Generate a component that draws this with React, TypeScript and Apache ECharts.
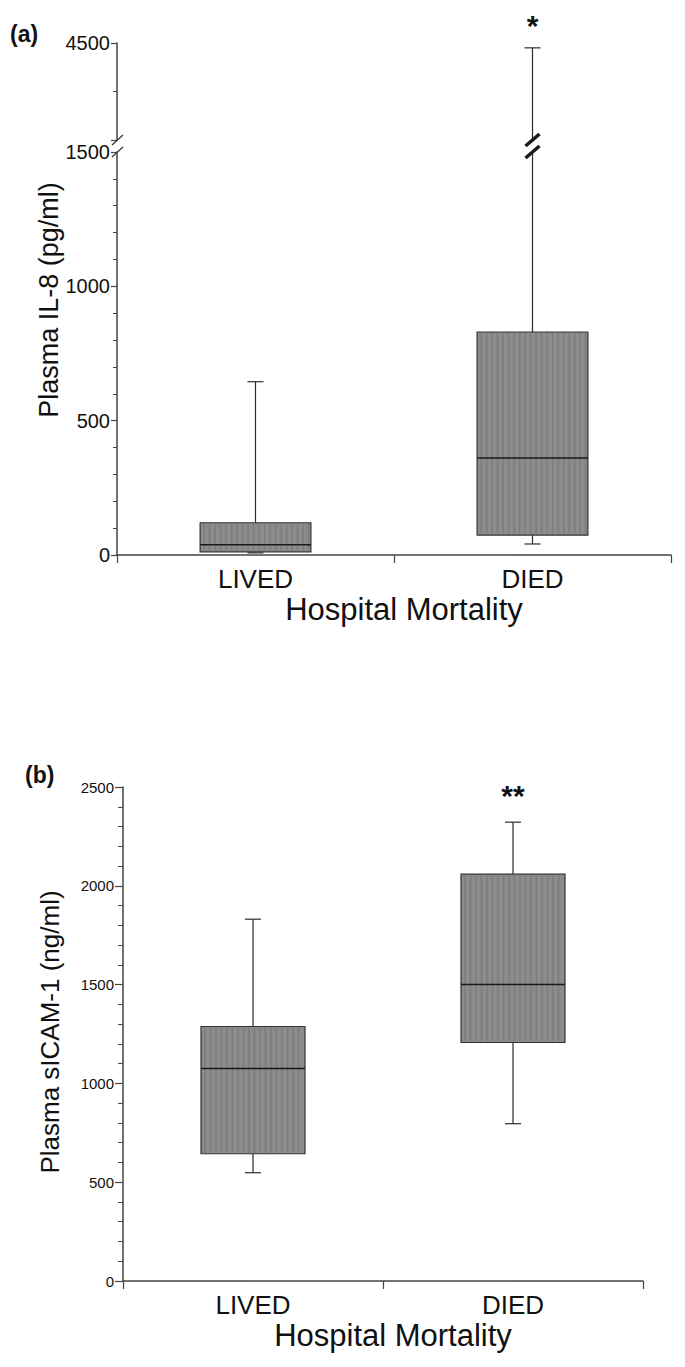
import React, { useEffect, useRef } from "react";
import * as echarts from "echarts";

// ---------- data ----------
const categories = ["LIVED", "DIED"];
// each box: [min, Q1, median, Q3, max]
const il8Boxes = [
  [8, 12, 38, 120, 645],
  [41, 74, 361, 830, 4350],
];
const icamBoxes = [
  [548, 644, 1075, 1288, 1831],
  [796, 1207, 1501, 2059, 2322],
];
const il8Marks = ["", "*"];
const icamMarks = ["", "**"];
const il8LowerRange = [0, 1500, 500];
const il8UpperRange = [1500, 4500, 3000];
const icamRange = [0, 2500, 500];

const FONT = '"Liberation Sans", Arial, Helvetica, sans-serif';
const AXIS = "#444";
const INK = "#111";

// layout
const A_LEFT = 117;
const A_WIDTH = 554;
const A_UP_TOP = 43;
const A_UP_H = 97;
const A_LO_TOP = 152;
const A_LO_H = 403;
const B_LEFT = 123;
const B_WIDTH = 520;
const B_TOP = 787;
const B_H = 494;

function boxSeries(xi: number, yi: number, boxes: number[][], marks: string[], markGap: number, markSize: number) {
  return {
    type: "custom",
    xAxisIndex: xi,
    yAxisIndex: yi,
    data: boxes.map((b, i) => [i, ...b]),
    encode: { x: 0, y: [1, 2, 3, 4, 5] },
    renderItem: (params: any, api: any) => {
      const cs = params.coordSys;
      const top = cs.y;
      const bottom = cs.y + cs.height;
      const cat = api.value(0);
      const v = [1, 2, 3, 4, 5].map((d) => api.value(d));
      const cx = api.coord([cat, v[2]])[0];
      const bw = api.size([1, 0])[0] * 0.4;
      const ys = v.map((val: number) => api.coord([cat, val])[1]);
      const inside = (y: number) => y >= top - 0.5 && y <= bottom + 0.5;
      const clamp = (y: number) => Math.min(bottom, Math.max(top, y));
      const children: any[] = [];
      const ls = { stroke: "#2b2b2b", lineWidth: 1.2 };
      const capW = 16;
      const seg = (ya: number, yb: number) => {
        const a = clamp(ya);
        const b = clamp(yb);
        if (Math.abs(a - b) > 0.5)
          children.push({ type: "line", shape: { x1: cx, y1: a, x2: cx, y2: b }, style: ls });
      };
      const cap = (y: number) => {
        if (inside(y))
          children.push({ type: "line", shape: { x1: cx - capW / 2, y1: y, x2: cx + capW / 2, y2: y }, style: ls });
      };
      seg(ys[0], ys[1]);
      cap(ys[0]);
      seg(ys[3], ys[4]);
      cap(ys[4]);
      const bt = clamp(ys[3]);
      const bb = clamp(ys[1]);
      if (bb - bt > 0.5) {
        const x0 = cx - bw / 2;
        children.push({
          type: "rect",
          shape: { x: x0, y: bt, width: bw, height: bb - bt },
          style: { fill: "#8c8c8c", stroke: "#333", lineWidth: 1.2 },
        });
        for (let sx = x0 + 4; sx < x0 + bw - 2; sx += 5.5) {
          children.push({
            type: "line",
            shape: { x1: sx, y1: bt + 1, x2: sx, y2: bb - 1 },
            style: { stroke: "rgba(0,0,0,0.12)", lineWidth: 1.4 },
          });
        }
      }
      if (inside(ys[2]))
        children.push({
          type: "line",
          shape: { x1: cx - bw / 2, y1: ys[2], x2: cx + bw / 2, y2: ys[2] },
          style: { stroke: "#1a1a1a", lineWidth: 1.5 },
        });
      const slash = (y: number) =>
        children.push({
          type: "line",
          shape: { x1: cx - 7, y1: y + 6, x2: cx + 7, y2: y - 6 },
          style: { stroke: "#1a1a1a", lineWidth: 3.5 },
        });
      if (ys[4] < top && ys[3] > top) slash(top);
      if (ys[4] < bottom && ys[3] > bottom) slash(bottom);
      const mark = marks[params.dataIndex];
      if (mark && inside(ys[4])) {
        children.push({
          type: "text",
          x: cx,
          y: ys[4] - markGap,
          style: {
            text: mark,
            fontSize: markSize,
            fontWeight: "bold",
            fontFamily: FONT,
            fill: INK,
            align: "center",
            verticalAlign: "middle",
          },
        });
      }
      return { type: "group", children };
    },
  };
}

function valueAxis(gridIndex: number, range: number[], labelSize: number, tickLen: number, minorLen: number, split: number, onlyMax?: boolean) {
  return {
    type: "value",
    gridIndex,
    min: range[0],
    max: range[1],
    interval: range[2],
    axisLine: { show: true, onZero: false, lineStyle: { color: AXIS, width: 1.5 } },
    axisTick: { show: true, length: tickLen, inside: false, lineStyle: { color: AXIS, width: 1.2 } },
    minorTick: { show: true, splitNumber: split, length: minorLen, lineStyle: { color: AXIS, width: 1 } },
    splitLine: { show: false },
    minorSplitLine: { show: false },
    axisLabel: {
      fontSize: labelSize,
      fontFamily: FONT,
      color: INK,
      margin: tickLen + 1,
      formatter: (v: number) => (onlyMax && v !== range[1] ? "" : String(v)),
    },
  };
}

function catAxis(gridIndex: number, visible: boolean) {
  return {
    type: "category",
    gridIndex,
    data: categories,
    boundaryGap: true,
    show: visible,
    axisLine: { show: true, onZero: false, lineStyle: { color: AXIS, width: 1.5 } },
    axisTick: { show: true, length: 8, inside: false, lineStyle: { color: AXIS, width: 1.2 } },
    axisLabel: { fontSize: 26, fontFamily: FONT, color: INK, margin: 11 },
    name: visible ? "Hospital Mortality" : "",
    nameLocation: "middle",
    nameGap: 39,
    nameTextStyle: { fontSize: 31, fontFamily: FONT, color: INK, padding: [0, 0, 0, 20] },
  };
}

export default function App() {
  const ref = useRef<HTMLDivElement>(null);
  useEffect(() => {
    if (!ref.current) return;
    const chart = echarts.init(ref.current, undefined, { renderer: "svg" });
    const brk = (y: number) => ({
      type: "line",
      shape: { x1: A_LEFT - 5, y1: y + 5, x2: A_LEFT + 6, y2: y - 5 },
      style: { stroke: "#333", lineWidth: 1.2 },
    });
    chart.setOption({
      animation: false,
      backgroundColor: "#fff",
      grid: [
        { left: A_LEFT, top: A_UP_TOP, width: A_WIDTH, height: A_UP_H },
        { left: A_LEFT, top: A_LO_TOP, width: A_WIDTH, height: A_LO_H },
        { left: B_LEFT, top: B_TOP, width: B_WIDTH, height: B_H },
      ],
      xAxis: [catAxis(0, false), catAxis(1, true), catAxis(2, true)],
      yAxis: [
        valueAxis(0, il8UpperRange, 20, 6, 4, 2, true),
        valueAxis(1, il8LowerRange, 20, 6, 4, 5),
        valueAxis(2, icamRange, 15, 8, 5, 5),
      ],
      graphic: [
        brk(A_UP_TOP + A_UP_H),
        brk(A_LO_TOP),
        {
          type: "text",
          left: 10,
          top: 22,
          style: { text: "(a)", fontSize: 23, fontWeight: "bold", fontFamily: FONT, fill: INK },
        },
        {
          type: "text",
          left: 25,
          top: 763,
          style: { text: "(b)", fontSize: 23, fontWeight: "bold", fontFamily: FONT, fill: INK },
        },
        {
          type: "text",
          x: 49,
          y: 300,
          rotation: Math.PI / 2,
          style: {
            text: "Plasma IL-8 (pg/ml)",
            fontSize: 27,
            fontFamily: FONT,
            fill: INK,
            align: "center",
            verticalAlign: "middle",
          },
        },
        {
          type: "text",
          x: 50,
          y: 1032,
          rotation: Math.PI / 2,
          style: {
            text: "Plasma sICAM-1 (ng/ml)",
            fontSize: 26,
            fontFamily: FONT,
            fill: INK,
            align: "center",
            verticalAlign: "middle",
          },
        },
      ],
      series: [
        boxSeries(0, 0, il8Boxes, il8Marks, 22, 30),
        boxSeries(1, 1, il8Boxes, il8Marks, 22, 30),
        boxSeries(2, 2, icamBoxes, icamMarks, 27, 30),
      ],
    });
    return () => chart.dispose();
  }, []);
  return (
    <div
      ref={ref}
      style={{ position: "absolute", left: 0, top: 0, width: 685, height: 1367, background: "#fff" }}
    />
  );
}
